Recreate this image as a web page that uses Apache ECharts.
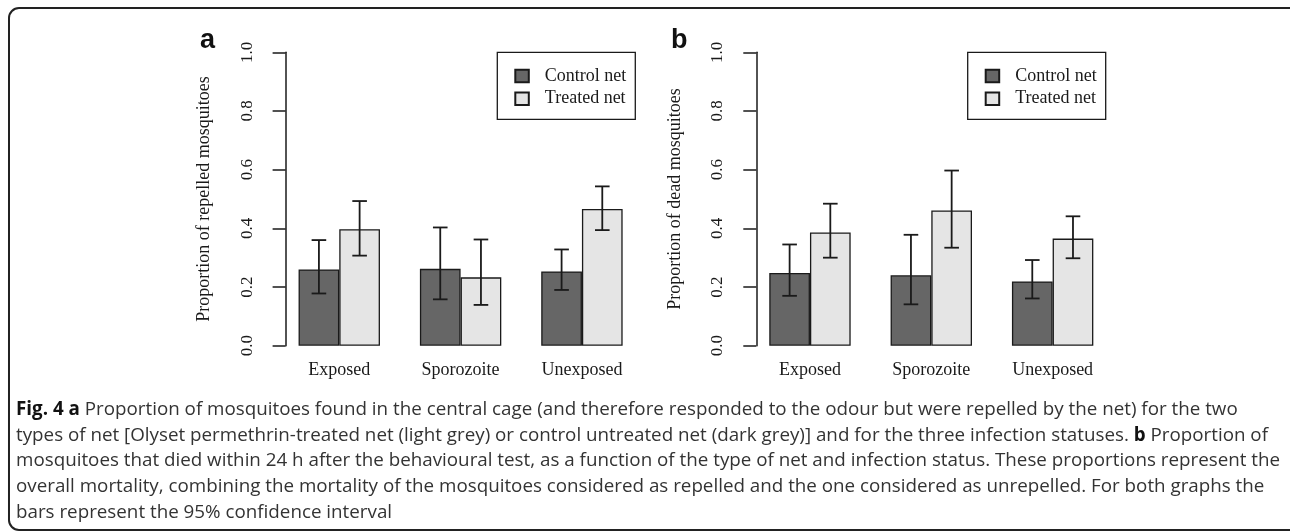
<!DOCTYPE html>
<html>
<head>
<meta charset="utf-8">
<title>Fig. 4</title>
<script src="https://cdn.jsdelivr.net/npm/echarts@6.0.0/dist/echarts.min.js"></script>
<style>
    html, body { margin: 0; padding: 0; background: #fff; }
    #chart { width: 1290px; height: 532px; }
</style>
</head>
<body>
<div id="chart"></div>
<script>
    // infection status groups
    const categories = ['Exposed', 'Sporozoite', 'Unexposed'];
    const netNames = ['Control net', 'Treated net'];
    const yTicks = [0, 0.2, 0.4, 0.6, 0.8, 1.0];

    // panel a: proportion of repelled mosquitoes
    const repelledControl = [0.260, 0.262, 0.253];
    const repelledControlLow = [0.178, 0.158, 0.190];
    const repelledControlHigh = [0.360, 0.403, 0.328];
    const repelledTreated = [0.397, 0.233, 0.466];
    const repelledTreatedLow = [0.307, 0.139, 0.394];
    const repelledTreatedHigh = [0.493, 0.362, 0.543];

    // panel b: proportion of dead mosquitoes
    const deadControl = [0.248, 0.240, 0.219];
    const deadControlLow = [0.170, 0.141, 0.161];
    const deadControlHigh = [0.345, 0.378, 0.292];
    const deadTreated = [0.386, 0.461, 0.365];
    const deadTreatedLow = [0.300, 0.334, 0.298];
    const deadTreatedHigh = [0.484, 0.597, 0.441];

    const captionLines = [
        '{b|Fig. 4 a} Proportion of mosquitoes found in the central cage (and therefore responded to the odour but were repelled by the net) for the two',
        'types of net [Olyset permethrin-treated net (light grey) or control untreated net (dark grey)] and for the three infection statuses. {b|b} Proportion of',
        'mosquitoes that died within 24 h after the behavioural test, as a function of the type of net and infection status. These proportions represent the',
        'overall mortality, combining the mortality of the mosquitoes considered as repelled and the one considered as unrepelled. For both graphs the',
        'bars represent the 95% confidence interval'
    ];

    const SERIF = '"Liberation Serif", "Times New Roman", serif';
    const SANS = '"Liberation Sans", Arial, sans-serif';
    const INK = '#1a1a1a';
    const DARK = '#666666';
    const LIGHT = '#e5e5e5';
    const BAR_W = 40.7;
    const CAPTION_FONT = '18.8px "Open Sans", sans-serif';

    const chart = echarts.init(document.getElementById('chart'), null, {renderer: 'canvas'});

    function errorBars(shift) {
        return function (params, api) {
            const idx = api.value(0);
            const x = api.coord([idx, 0])[0] + shift;
            const lo = api.coord([idx, api.value(1)])[1];
            const hi = api.coord([idx, api.value(2)])[1];
            const style = {stroke: INK, lineWidth: 1.8};
            return {
                type: 'group',
                children: [
                    {type: 'line', shape: {x1: x, y1: hi, x2: x, y2: lo}, style},
                    {type: 'line', shape: {x1: x - 7.3, y1: hi, x2: x + 7.3, y2: hi}, style},
                    {type: 'line', shape: {x1: x - 7.3, y1: lo, x2: x + 7.3, y2: lo}, style}
                ]
            };
        };
    }

    function ciData(low, high) {
        return low.map((v, i) => [i, v, high[i]]);
    }

    function panel(idx, left, axisName, control, controlLow, controlHigh, treated, treatedLow, treatedHigh) {
        return {
            grid: {left: left, top: 52.3, width: 364, height: 293.4},
            xAxis: {
                type: 'category',
                gridIndex: idx,
                data: categories,
                axisLine: {show: false},
                axisTick: {show: false},
                axisLabel: {color: INK, fontFamily: SERIF, fontSize: 18, margin: 16}
            },
            yAxis: {
                type: 'value',
                gridIndex: idx,
                min: 0,
                max: 1,
                interval: 0.2,
                offset: -7,
                name: axisName,
                nameLocation: 'middle',
                nameGap: 72,
                nameTextStyle: {color: INK, fontFamily: SERIF, fontSize: 18},
                axisLine: {show: true, lineStyle: {color: INK, width: 1.5}},
                axisTick: {show: true, length: 13, lineStyle: {color: INK, width: 1.5}},
                splitLine: {show: false},
                axisLabel: {
                    rotate: 90,
                    margin: 30,
                    color: INK,
                    fontFamily: SERIF,
                    fontSize: 17,
                    formatter: v => v.toFixed(1)
                }
            },
            series: [
                {
                    name: netNames[0],
                    type: 'bar',
                    xAxisIndex: idx,
                    yAxisIndex: idx,
                    data: control,
                    barWidth: BAR_W,
                    barGap: '0%',
                    itemStyle: {color: DARK, borderColor: INK, borderWidth: 1.3},
                    silent: true
                },
                {
                    name: netNames[1],
                    type: 'bar',
                    xAxisIndex: idx,
                    yAxisIndex: idx,
                    data: treated,
                    barWidth: BAR_W,
                    barGap: '0%',
                    itemStyle: {color: LIGHT, borderColor: INK, borderWidth: 1.3},
                    silent: true
                },
                {
                    type: 'custom',
                    xAxisIndex: idx,
                    yAxisIndex: idx,
                    renderItem: errorBars(-BAR_W / 2),
                    encode: {x: 0, y: [1, 2]},
                    data: ciData(controlLow, controlHigh),
                    z: 5,
                    silent: true
                },
                {
                    type: 'custom',
                    xAxisIndex: idx,
                    yAxisIndex: idx,
                    renderItem: errorBars(BAR_W / 2),
                    encode: {x: 0, y: [1, 2]},
                    data: ciData(treatedLow, treatedHigh),
                    z: 5,
                    silent: true
                }
            ]
        };
    }

    const a = panel(0, 278.6, 'Proportion of repelled mosquitoes',
        repelledControl, repelledControlLow, repelledControlHigh,
        repelledTreated, repelledTreatedLow, repelledTreatedHigh);
    const b = panel(1, 749.3, 'Proportion of dead mosquitoes',
        deadControl, deadControlLow, deadControlHigh,
        deadTreated, deadTreatedLow, deadTreatedHigh);

    function legendAt(left) {
        return {
            orient: 'vertical',
            left: left,
            top: 52.3,
            data: netNames,
            selectedMode: false,
            icon: 'rect',
            itemWidth: 13.5,
            itemHeight: 12.5,
            itemGap: 4.7,
            padding: [14.7, 9, 11.6, 17],
            borderColor: INK,
            borderWidth: 1.3,
            textStyle: {color: INK, fontFamily: SERIF, fontSize: 18, padding: [0, 0, 0, 11]}
        };
    }

    const graphics = [
        {
            type: 'rect',
            shape: {x: 9, y: 8, width: 1300, height: 522, r: 10},
            style: {fill: 'none', stroke: '#222', lineWidth: 2},
            silent: true
        },
        {
            type: 'text', left: 200, top: 27,
            style: {text: 'a', font: 'bold 27px ' + SANS, fill: '#111'}
        },
        {
            type: 'text', left: 671, top: 27,
            style: {text: 'b', font: 'bold 27px ' + SANS, fill: '#111'}
        }
    ];
    captionLines.forEach((line, i) => {
        graphics.push({
            type: 'text',
            x: 16,
            y: 409.5 + 25.8 * i,
            style: {
                text: line,
                font: CAPTION_FONT,
                fill: '#333',
                verticalAlign: 'middle',
                rich: {
                    b: {font: 'bold ' + CAPTION_FONT, fill: '#111'}
                }
            },
            silent: true
        });
    });

    chart.setOption({
        backgroundColor: '#fff',
        animation: false,
        grid: [a.grid, b.grid],
        xAxis: [a.xAxis, b.xAxis],
        yAxis: [a.yAxis, b.yAxis],
        legend: [legendAt(497.3), legendAt(967.7)],
        series: a.series.concat(b.series),
        graphic: graphics
    });
</script>
</body>
</html>
